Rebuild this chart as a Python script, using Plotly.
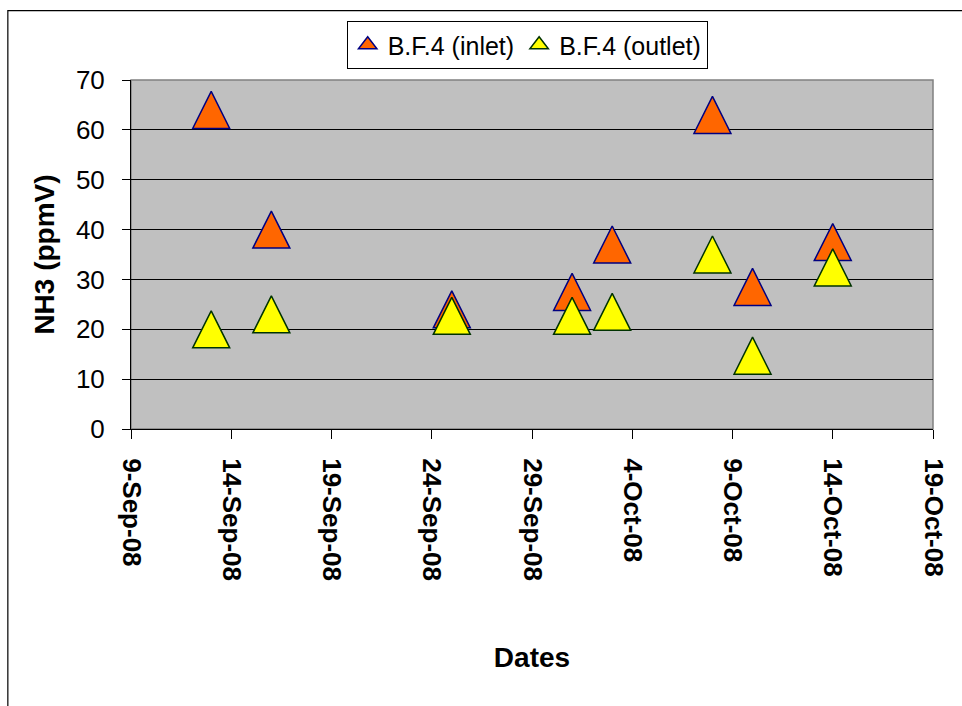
import plotly.graph_objects as go

dates = ['2008-09-13', '2008-09-16', '2008-09-25', '2008-10-01', '2008-10-03',
         '2008-10-08', '2008-10-10', '2008-10-14']
inlet = [64, 40, 24, 27.5, 37, 63, 28.5, 37.5]
outlet = [20, 23, 22.7, 22.7, 23.5, 35, 14.7, 32.4]
series_names = ['B.F.4 (inlet)', 'B.F.4 (outlet)']
fills = ['#FF6600', '#FFFF00']
edges = ['#000080', '#003300']
x_range = ['2008-09-09', '2008-10-19']
y_ticks = [0, 10, 20, 30, 40, 50, 60, 70]

FONT = "Liberation Sans, Arial, sans-serif"
MS = 37
LMS = 16

fig = go.Figure()
for name, vals, fc, ec in zip(series_names, [inlet, outlet], fills, edges):
    fig.add_trace(go.Scatter(
        x=dates, y=vals, mode='markers', name=name, showlegend=False,
        marker=dict(symbol='arrow-down', angle=180, standoff=MS / 2, size=MS,
                    color=fc, line=dict(color=ec, width=1.5)),
    ))
for name, fc, ec in zip(series_names, fills, edges):
    fig.add_trace(go.Scatter(
        x=[None], y=[None], mode='markers', name=name, showlegend=True,
        marker=dict(symbol='triangle-up', size=LMS,
                    color=fc, line=dict(color=ec, width=1.5)),
    ))

L, R, T, B = 130.7, 29, 80, 276.7
W, H = 962, 706
pw = W - L - R
ph = H - T - B

fig.update_layout(
    width=W, height=H,
    margin=dict(l=L, r=R, t=T, b=B, autoexpand=False),
    paper_bgcolor='white', plot_bgcolor='#C0C0C0',
    font=dict(family=FONT, color='black', size=26),
    showlegend=True,
    legend=dict(orientation='h', x=0.494, xanchor='center',
                y=(429.3 - 21) / ph, yanchor='top',
                bgcolor='white', bordercolor='black', borderwidth=1,
                font=dict(family=FONT, size=25), itemsizing='trace',
                itemwidth=30, tracegroupgap=0),
    xaxis=dict(
        type='date', range=x_range, tick0=x_range[0], dtick=5 * 86400000,
        tickformat='%-d-%b-%y', tickangle=90, ticks='outside', ticklen=9,
        tickcolor='black', showline=True, linecolor='black', linewidth=1,
        showgrid=False, zeroline=False,
        tickfont=dict(family=FONT, size=26, color='black', weight='bold'),
        ticklabelstandoff=14,
        title=dict(text='<b>Dates</b>', font=dict(family=FONT, size=28), standoff=67),
    ),
    yaxis=dict(
        range=[0, 70], tickvals=y_ticks, ticks='outside', ticklen=8,
        tickcolor='black', showline=True, linecolor='black', linewidth=1,
        showgrid=True, gridcolor='black', gridwidth=1, zeroline=False,
        tickfont=dict(family=FONT, size=26, color='black'),
        ticklabelstandoff=12,
        title=dict(text='<b>NH3 (ppmV)</b>', font=dict(family=FONT, size=28), standoff=13),
    ),
    shapes=[
        dict(type='rect', xref='paper', yref='paper', x0=0, x1=1, y0=0, y1=1,
             line=dict(color='#808080', width=1.5), layer='below'),
        dict(type='rect', xref='paper', yref='paper',
             x0=(7.5 - L) / pw, x1=1.2, y0=-1.0, y1=(429.3 - 10.5) / ph,
             line=dict(color='black', width=1.2), layer='below'),
    ],
)

fig.write_html("out.html")
